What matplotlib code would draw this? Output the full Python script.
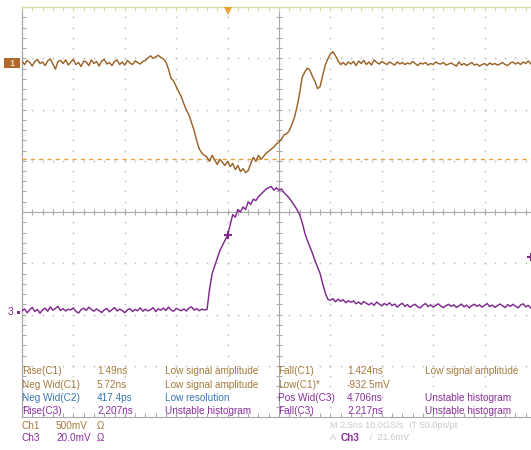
import numpy as np
import matplotlib
matplotlib.use("Agg")
import matplotlib.pyplot as plt
from matplotlib.patches import Rectangle

plt.rcParams['font.family'] = ['Liberation Sans', 'DejaVu Sans']

# ---------------- data ----------------
T0_NS = -10.0          # first sample time (ns)
DT_NS = 0.125          # sample spacing (ns)
NS_PER_DIV = 2.5
CH1_MV_PER_DIV = 500.0
CH3_MV_PER_DIV = 20.0

# Ch1 waveform (mV), 8 samples per ns
ch1_mv = [
    20, -15, 25, 5, -30, 15, 35, -5,            # -10 ns
    10, -25, 20, 40, -10, -60, 15, 25,          # -9
    -5, 30, -20, 10, 35, -15, 5, -35,           # -8
    20, 10, -25, 30, -5, 15, -30, 20,           # -7
    35, -10, 5, -25, 15, 30, -15, 10,           # -6
    -20, 25, 0, -15, 20, 5, -10, 15,            # -5
    25, 50, 70, 45, 60, 75, 55, 40,             # -4
    10, -60, -150, -175, -230, -280, -330, -400,  # -3
    -460, -510, -585, -660, -760, -840, -880, -900,  # -2
    -920, -960, -900, -950, -990, -940, -970, -1000,  # -1
    -960, -1010, -980, -1040, -1000, -1060, -1030, -1070,  # 0
    -1050, -980, -920, -960, -900, -940, -910, -880,  # 1
    -860, -840, -820, -790, -770, -740, -700, -690,   # 2
    -660, -600, -530, -430, -300, -140, -90, -50,     # 3
    -70, -130, -180, -250, -230, -120, -20, 40,       # 4
    90, 110, 70, 20, -15, 5, -20, 10,                 # 5
    -10, 15, -25, 20, -5, 25, -15, 10,                # 6
    -20, 30, 5, -10, 15, 0, -15, 10,                  # 7
    -5, -20, 10, -10, 5, -15, 0, -10,                 # 8
    15, -5, -25, 0, -10, 5, -20, -5,                  # 9
    -15, 10, -5, -10, 5, -20, -10, 0,                 # 10
    -15, -30, 10, -20, -5, -25, -10, 5,               # 11
    -20, -10, -30, -15, -5, -25, 0, -15,              # 12
    -5, -20, -10, 5, -15, -25, 0, 10,                 # 13
    -10, 5, -15, 10, -5, 20, -10, 15,                 # 14
    5,                                                # 15
]

# Ch3 waveform (mV)
ch3_mv = [
    0.5, 1.2, -0.3, 0.8, 1.8, 0.2, 1.0, -0.5,   # -10
    0.9, 1.5, 0.3, 2.0, 0.7, 1.4, 2.2, 0.6,     # -9
    1.3, 0.4, 1.1, 0.8, 1.6, 0.2, -0.4, 0.9,    # -8
    1.5, 0.6, 1.9, 1.0, 0.3, 1.2, 0.5, -0.2,    # -7
    0.8, 1.4, 0.1, 0.9, 1.7, 0.4, 1.1, 0.6,     # -6
    -0.3, 0.8, 1.3, 0.2, 1.0, 0.5, 1.6, 0.3,    # -5
    1.1, 0.4, 0.9, 1.7, 0.2, 1.2, 0.7, 1.5,     # -4
    0.6, 1.9, 0.8, 0.3, 1.4, 0.9, 0.5, 1.2,     # -3
    0.4, 1.6, 2.0, 0.7, 1.3, 0.5, 1.1, 0.8,     # -2
    1.0, 9.0, 15.0, 18.0, 21.0, 24.0, 26.0, 28.0,   # -1
    30.0, 34.0, 38.0, 37.0, 40.0, 39.0, 41.0, 40.0,  # 0
    43.0, 42.0, 44.0, 43.5, 45.0, 46.0, 47.0, 48.0,  # 1
    48.5, 49.0, 47.5, 48.5, 47.5, 48.0, 46.5, 45.5,  # 2
    44.5, 43.0, 41.5, 40.0, 38.0, 35.0, 31.0, 28.0,  # 3
    25.5, 23.0, 20.0, 17.5, 15.0, 11.0, 7.5, 5.0,    # 4
    4.6, 5.2, 4.0, 5.0, 4.2, 4.8, 3.6, 4.4,     # 5
    3.8, 4.3, 3.2, 3.9, 3.0, 4.1, 3.4, 2.8,     # 6
    3.5, 2.6, 3.9, 3.1, 2.4, 3.3, 2.7, 3.6,     # 7
    2.5, 3.1, 1.9, 2.8, 3.4, 2.2, 2.9, 1.8,     # 8
    2.6, 3.0, 2.0, 1.6, 2.7, 3.3, 2.1, 2.8,     # 9
    1.9, 2.6, 3.2, 2.3, 1.7, 2.5, 3.0, 2.2,     # 10
    2.8, 1.8, 2.4, 3.1, 2.0, 2.7, 1.6, 2.5,     # 11
    3.0, 2.2, 2.8, 1.9, 2.6, 3.3, 2.1, 2.7,     # 12
    1.8, 2.5, 3.1, 2.4, 1.7, 2.9, 2.2, 3.0,     # 13
    2.3, 1.6, 2.7, 3.2, 2.0, 2.6, 1.5, 2.4,     # 14
    1.9,                                        # 15
]

LOW_C1_MV = -932.5
TRIG_CH3_MV = 21.6

# measurement table
meas_left_labels = ["Rise(C1)", "Neg Wid(C1)", "Neg Wid(C2)", "Rise(C3)"]
meas_left_values = ["1.49ns", "5.72ns", "417.4ps", "2.207ns"]
meas_left_status = ["Low signal amplitude", "Low signal amplitude",
                    "Low resolution", "Unstable histogram"]
meas_left_src = ["C1", "C1", "C2", "C3"]
meas_right_labels = ["Fall(C1)", "Low(C1)*", "Pos Wid(C3)", "Fall(C3)"]
meas_right_values = ["1.424ns", "-932.5mV", "4.706ns", "2.217ns"]
meas_right_status = ["Low signal amplitude", "", "Unstable histogram",
                     "Unstable histogram"]
meas_right_src = ["C1", "C1", "C3", "C3"]

# ---------------- styling ----------------
W, H = 531, 450
COL = {"C1": "#a37a3c", "C2": "#3a78b5", "C3": "#8a2f9c"}
TRACE1 = "#9a6428"
TRACE3 = "#7e2a8c"
GRID = "#bdbdbd"

OFF1_DIV = (212 - 63) / 51.25      # Ch1 ground marker position (div)
OFF3_DIV = (212 - 312) / 51.25     # Ch3 ground marker position (div)

fig = plt.figure(figsize=(W / 100, H / 100), dpi=100)
fig.patch.set_facecolor("white")
ax = fig.add_axes([22 / W, 1 - 417 / H, 514 / W, 410 / H])
ax.set_xlim(-10, 15)
ax.set_ylim(-4, 4)
ax.axis("off")

xmaj = [-10 + NS_PER_DIV * k for k in range(11)]
ymaj = list(range(-4, 5))
xmin = [-10 + NS_PER_DIV * k / 5 for k in range(51)]
ymin = [-4 + k / 5 for k in range(41)]
xc = 2.5

# dotted graticule
for xv in xmaj[1:-1]:
    if abs(xv - xc) < 1e-6:
        continue
    ax.plot([xv] * len(ymin), ymin, ls="none", marker="s", ms=1.1,
            mew=0, color=GRID)
for yv in ymaj[1:-1]:
    if yv == 0:
        continue
    ax.plot(xmin, [yv] * len(xmin), ls="none", marker="s", ms=1.1,
            mew=0, color=GRID)

# centre lines with ticks
ax.plot([-10, 15], [0, 0], color="#a8a8a8", lw=0.8)
ax.plot([xc, xc], [-4, 4], color="#a8a8a8", lw=0.8)
ax.plot(xmin, [0] * len(xmin), ls="none", marker="|", ms=5, mew=0.8,
        color="#a8a8a8")
ax.plot([xc] * len(ymin), ymin, ls="none", marker="_", ms=5, mew=0.8,
        color="#a8a8a8")
# edges
ax.plot([-10, -10], [-4, 4], color="#a8a8a8", lw=0.9, clip_on=False)
ax.plot([-10] * len(ymin), ymin, ls="none", marker="_", ms=6, mew=0.8,
        color="#a8a8a8")
ax.plot([-10, 15], [4, 4], color="#cfe0a8", lw=1.0, clip_on=False)
ax.plot(xmin, [4] * len(xmin), ls="none", marker="|", ms=6, mew=0.8,
        color="#cfe0a8")
ax.plot([-10, 15], [-4, -4], color="#a8a8a8", lw=0.8, clip_on=False)
ax.plot(xmin, [-4] * len(xmin), ls="none", marker="|", ms=6, mew=0.8,
        color="#a8a8a8")

# traces
t1 = T0_NS + DT_NS * np.arange(len(ch1_mv))
t3 = T0_NS + DT_NS * np.arange(len(ch3_mv))
y1 = np.array(ch1_mv) / CH1_MV_PER_DIV + OFF1_DIV
y3 = np.array(ch3_mv) / CH3_MV_PER_DIV + OFF3_DIV
ax.plot(t1, y1, color=TRACE1, lw=1.05, zorder=5)
ax.plot(t3, y3, color=TRACE3, lw=1.05, zorder=5)

# Low(C1) cursor
ax.plot([-10, 15], [LOW_C1_MV / CH1_MV_PER_DIV + OFF1_DIV] * 2,
        color="#e8a040", lw=1.0, ls=(0, (3, 3)), zorder=4)

# trigger markers
ax.plot(0, 3.93, marker="v", color="#f0a030", ms=6, mew=0, clip_on=False,
        zorder=6)
i0 = int(round((0 - T0_NS) / DT_NS))
ax.plot(0, y3[i0], marker="+", color=TRACE3, ms=6, mew=1.5, zorder=6)
ax.plot(14.75, TRIG_CH3_MV / CH3_MV_PER_DIV + OFF3_DIV, marker="+",
        color=TRACE3, ms=6, mew=1.5, zorder=6)

# channel ground markers
def px2fig(x, y):
    return x / W, 1 - y / H

fig.patches.append(Rectangle(px2fig(4, 68), 16 / W, 10 / H,
                             transform=fig.transFigure, facecolor="#b0692a",
                             edgecolor="none"))
fig.text(*px2fig(12, 63), "1", color="#f0d8b8", fontsize=6.5,
         ha="center", va="center", fontweight="bold")
fig.text(*px2fig(11, 312), "3", color=TRACE3, fontsize=7.5,
         ha="center", va="center")
fig.patches.append(Rectangle(px2fig(17, 313.5), 3 / W, 3 / H,
                             transform=fig.transFigure, facecolor=TRACE3,
                             edgecolor="none"))

# measurement table
FS = 7.2
rows_y = [371, 385, 398, 411]
for i, yy in enumerate(rows_y):
    c = COL[meas_left_src[i]]
    fig.text(*px2fig(22, yy), meas_left_labels[i], color=c, fontsize=FS,
             va="center")
    fig.text(*px2fig(97, yy), meas_left_values[i], color=c, fontsize=FS,
             va="center")
    fig.text(*px2fig(165, yy), meas_left_status[i], color=c, fontsize=FS,
             va="center")
    c = COL[meas_right_src[i]]
    fig.text(*px2fig(278, yy), meas_right_labels[i], color=c, fontsize=FS,
             va="center")
    fig.text(*px2fig(347, yy), meas_right_values[i], color=c, fontsize=FS,
             va="center")
    if meas_right_status[i]:
        fig.text(*px2fig(425, yy), meas_right_status[i], color=c,
                 fontsize=FS, va="center")

fig.text(*px2fig(22, 426), "Ch1", color=COL["C1"], fontsize=FS, va="center")
fig.text(*px2fig(56, 426), "500mV", color=COL["C1"], fontsize=FS, va="center")
fig.text(*px2fig(97, 426), "Ω", color=COL["C1"], fontsize=FS, va="center")
fig.text(*px2fig(22, 438), "Ch3", color=COL["C3"], fontsize=FS, va="center")
fig.text(*px2fig(56, 438), "20.0mV", color=COL["C3"], fontsize=FS, va="center")
fig.text(*px2fig(97, 438), "Ω", color=COL["C3"], fontsize=FS, va="center")

GRAY = "#c8c8c8"
GFS = 6.6
fig.text(*px2fig(330, 426), "M 2.5ns 10.0GS/s", color=GRAY, fontsize=GFS,
         va="center")
fig.text(*px2fig(409, 426), "IT 50.0ps/pt", color=GRAY, fontsize=GFS,
         va="center")
fig.text(*px2fig(330, 438), "A", color=GRAY, fontsize=GFS, va="center")
fig.text(*px2fig(341, 438), "Ch3", color=COL["C3"], fontsize=FS, va="center",
         fontweight="bold")
fig.text(*px2fig(370, 438), "/  21.6mV", color=GRAY, fontsize=GFS,
         va="center")

fig.savefig("out.png", dpi=100, facecolor="white")
